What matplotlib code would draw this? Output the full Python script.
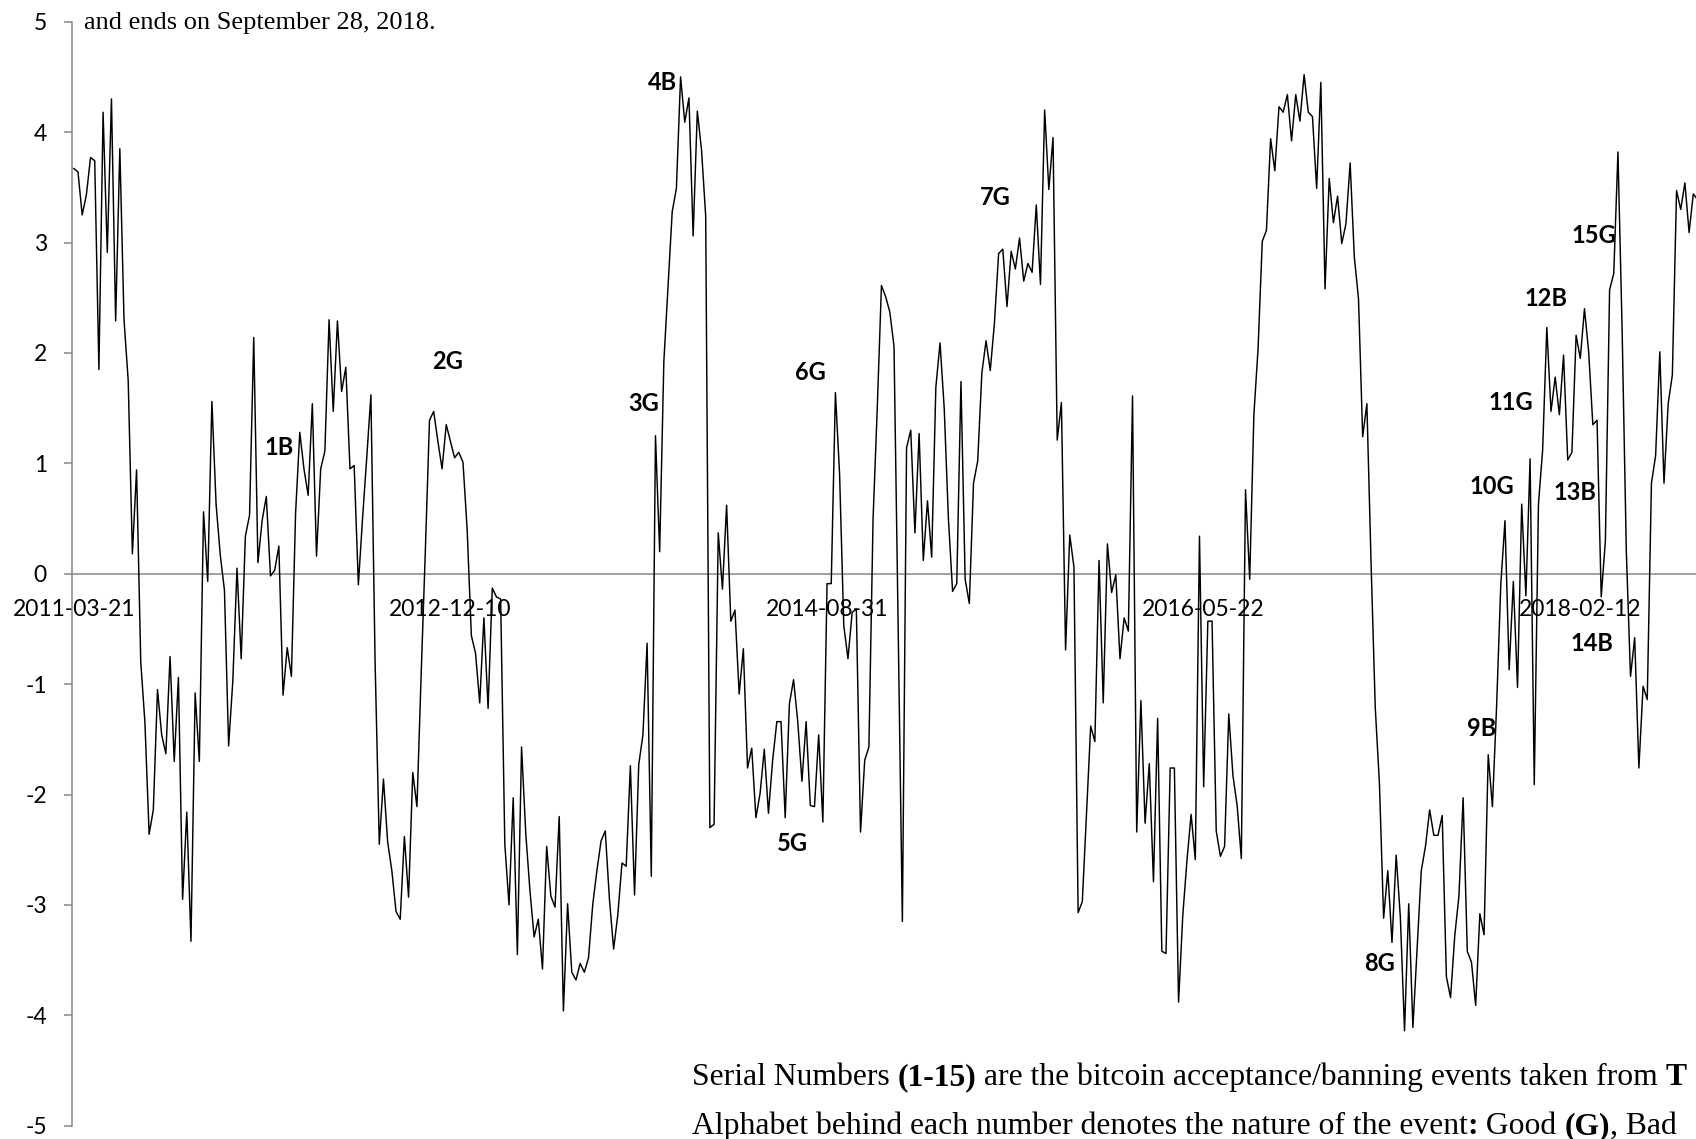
import matplotlib
matplotlib.use("Agg")
import matplotlib.pyplot as plt

# ---- data (weekly sentiment index) ----
values = [
    3.67, 3.64, 3.25, 3.43, 3.77, 3.74, 1.85, 4.18, 2.91, 4.30,
    2.29, 3.85, 2.30, 1.75, 0.18, 0.94, -0.80, -1.35, -2.36, -2.14,
    -1.05, -1.46, -1.63, -0.75, -1.70, -0.94, -2.95, -2.16, -3.33, -1.08,
    -1.70, 0.56, -0.07, 1.56, 0.63, 0.17, -0.15, -1.56, -0.97, 0.05,
    -0.77, 0.34, 0.53, 2.14, 0.10, 0.48, 0.70, -0.02, 0.03, 0.25,
    -1.10, -0.67, -0.93, 0.55, 1.28, 0.95, 0.71, 1.54, 0.16, 0.95,
    1.11, 2.30, 1.47, 2.29, 1.65, 1.87, 0.95, 0.98, -0.10, 0.50,
    1.05, 1.62, -0.80, -2.45, -1.86, -2.43, -2.69, -3.06, -3.13, -2.38,
    -2.93, -1.80, -2.11, -0.92, 0.20, 1.39, 1.47, 1.20, 0.95, 1.35,
    1.20, 1.05, 1.10, 1.01, 0.40, -0.56, -0.72, -1.17, -0.40, -1.22,
    -0.13, -0.21, -0.23, -2.45, -3.00, -2.03, -3.45, -1.57, -2.35, -2.87,
    -3.29, -3.13, -3.58, -2.47, -2.92, -3.02, -2.20, -3.96, -2.99, -3.61,
    -3.68, -3.53, -3.61, -3.48, -3.00, -2.69, -2.42, -2.33, -2.95, -3.40,
    -3.09, -2.62, -2.65, -1.74, -2.91, -1.73, -1.46, -0.63, -2.74, 1.25,
    0.20, 1.92, 2.60, 3.28, 3.49, 4.50, 4.09, 4.31, 3.06, 4.19,
    3.84, 3.24, -2.30, -2.27, 0.37, -0.14, 0.62, -0.43, -0.33, -1.09,
    -0.68, -1.76, -1.58, -2.21, -1.99, -1.59, -2.17, -1.69, -1.34, -1.34,
    -2.21, -1.18, -0.96, -1.34, -1.88, -1.34, -2.10, -2.11, -1.46, -2.25,
    -0.09, -0.09, 1.64, 0.90, -0.47, -0.77, -0.35, -0.32, -2.34, -1.69,
    -1.57, 0.50, 1.50, 2.61, 2.51, 2.37, 2.06, -0.50, -3.15, 1.14,
    1.30, 0.37, 1.27, 0.12, 0.66, 0.15, 1.69, 2.09, 1.50, 0.50,
    -0.16, -0.09, 1.74, -0.05, -0.27, 0.82, 1.02, 1.82, 2.11, 1.84,
    2.27, 2.90, 2.94, 2.42, 2.92, 2.76, 3.04, 2.65, 2.81, 2.73,
    3.34, 2.62, 4.20, 3.48, 3.95, 1.21, 1.55, -0.69, 0.35, 0.06,
    -3.07, -2.97, -2.18, -1.38, -1.52, 0.12, -1.17, 0.27, -0.17, -0.01,
    -0.77, -0.40, -0.52, 1.61, -2.34, -1.15, -2.26, -1.72, -2.79, -1.31,
    -3.42, -3.44, -1.76, -1.76, -3.88, -3.10, -2.60, -2.18, -2.59, 0.34,
    -1.93, -0.43, -0.43, -2.33, -2.56, -2.47, -1.27, -1.83, -2.10, -2.58,
    0.76, -0.05, 1.44, 2.04, 3.01, 3.11, 3.94, 3.65, 4.23, 4.18,
    4.34, 3.92, 4.34, 4.10, 4.52, 4.18, 4.14, 3.49, 4.45, 2.58,
    3.58, 3.18, 3.42, 2.99, 3.17, 3.72, 2.87, 2.49, 1.24, 1.54,
    0.10, -1.21, -1.90, -3.12, -2.69, -3.34, -2.55, -3.11, -4.14, -2.99,
    -4.11, -3.40, -2.69, -2.47, -2.14, -2.37, -2.37, -2.19, -3.65, -3.84,
    -3.28, -2.92, -2.03, -3.42, -3.52, -3.91, -3.08, -3.27, -1.64, -2.11,
    -1.20, -0.10, 0.48, -0.87, -0.07, -1.03, 0.63, -0.20, 1.04, -1.91,
    0.63, 1.12, 2.23, 1.47, 1.78, 1.44, 1.98, 1.03, 1.10, 2.16,
    1.95, 2.40, 2.01, 1.35, 1.39, -0.21, 0.30, 2.57, 2.72, 3.82,
    2.20, 0.20, -0.93, -0.58, -1.76, -1.02, -1.14, 0.82, 1.07, 2.01,
    0.82, 1.54, 1.80, 3.47, 3.30, 3.54, 3.09, 3.44, 3.39,
]

tick_positions = [0, 90, 180, 270, 360]
tick_labels = ["2011-03-21", "2012-12-10", "2014-08-31", "2016-05-22", "2018-02-12"]

y_ticks = [-5, -4, -3, -2, -1, 0, 1, 2, 3, 4, 5]

event_labels = ["1B", "2G", "3G", "4B", "5G", "6G", "7G", "8G",
                "9B", "10G", "11G", "12B", "13B", "14B", "15G"]
event_x = [49.1, 89.2, 136.1, 140.6, 171.8, 176.1, 220.3, 312.1,
           336.4, 338.8, 343.5, 351.9, 358.7, 362.8, 363.2]
event_y = [1.14, 1.92, 1.54, 4.45, -2.44, 1.82, 3.41, -3.53,
           -1.40, 0.79, 1.55, 2.49, 0.74, -0.63, 3.06]

caption_top = "and ends on September 28, 2018."
caption_line1 = [("Serial Numbers ", False), ("(1-15)", True),
                 (" are the bitcoin acceptance/banning events taken from ", False),
                 ("T", True)]
caption_line2 = [("Alphabet behind each number denotes the nature of the event", False),
                 (":", True), (" Good ", False), ("(G)", True), (", Bad", False)]

GRAY = "#868686"
W, H = 1696, 1139

fig = plt.figure(figsize=(W / 100, H / 100), dpi=100)
fig.patch.set_facecolor("white")

ax_left, ax_right = 72, W
ax_top, ax_bot = 21.7, 1125.7
ax = fig.add_axes([ax_left / W, (H - ax_bot) / H,
                   (ax_right - ax_left) / W, (ax_bot - ax_top) / H])
ax.set_facecolor("none")

x = list(range(len(values)))
ax.plot(x, values, color="black", lw=1.05, zorder=3)

ax.set_xlim(-0.43, 387.65)
ax.set_ylim(-5, 5)

for s in ["top", "right"]:
    ax.spines[s].set_visible(False)
ax.spines["left"].set_color(GRAY)
ax.spines["left"].set_linewidth(1.1)
ax.spines["bottom"].set_position(("data", 0))
ax.spines["bottom"].set_color(GRAY)
ax.spines["bottom"].set_linewidth(1.1)

ax.set_yticks(y_ticks)
ax.set_yticklabels([str(v) for v in y_ticks])
ax.tick_params(axis="y", direction="out", length=6, width=1.1, color=GRAY,
               pad=12, labelsize=16.5, labelcolor="black")
for lab in ax.get_yticklabels():
    lab.set_family("Lato")

ax.set_xticks(tick_positions)
ax.set_xticklabels(tick_labels)
ax.tick_params(axis="x", length=0, pad=18, labelsize=16.5, labelcolor="black")
for lab in ax.get_xticklabels():
    lab.set_family("Lato")

for lab, ex, ey in zip(event_labels, event_x, event_y):
    ax.text(ex, ey, lab, ha="center", va="center", fontsize=17,
            fontweight="bold", family="Lato", zorder=4)

# ---- caption fragments (serif) ----
fig.text(84 / W, (H - 29) / H, caption_top,
         family="Liberation Serif", fontsize=19, va="baseline", ha="left")


def draw_rich(x0, y0, parts, size):
    prev = fig.text(x0, y0, parts[0][0], family="Liberation Serif",
                    fontsize=size,
                    fontweight="bold" if parts[0][1] else "normal",
                    va="baseline", ha="left")
    for s, bold in parts[1:]:
        prev = ax.annotate(
            s, xy=(1, 0), xycoords=prev, xytext=(0, 0),
            textcoords="offset points", va="bottom", ha="left",
            family="Liberation Serif", fontsize=size,
            fontweight="bold" if bold else "normal",
            annotation_clip=False)


draw_rich(692 / W, (H - 1085) / H, caption_line1, 22.8)
draw_rich(692 / W, (H - 1134) / H, caption_line2, 22.8)

fig.savefig("out.png", dpi=100, facecolor="white")
